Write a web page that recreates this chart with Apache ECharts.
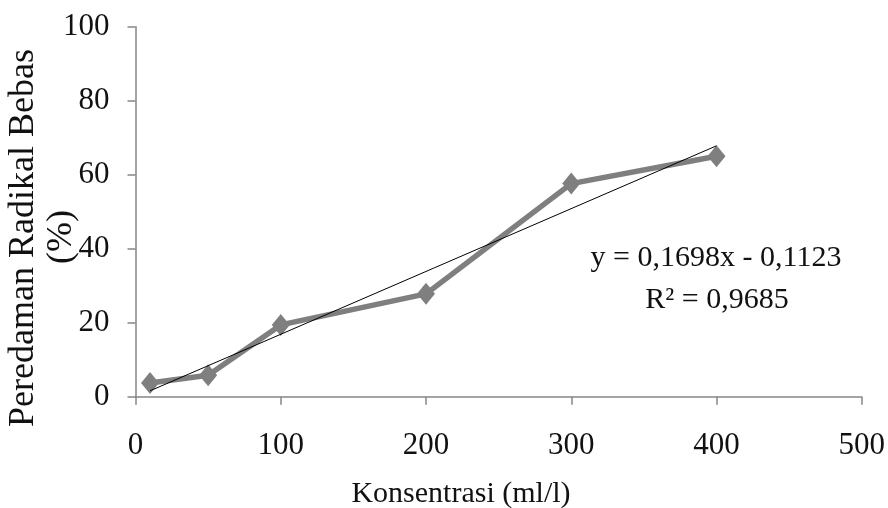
<!DOCTYPE html>
<html><head><meta charset="utf-8">
<script src="https://cdn.jsdelivr.net/npm/echarts@6/dist/echarts.min.js"></script>
<style>html,body{margin:0;padding:0;background:#fff}#c{width:888px;height:508px}</style>
</head><body><div id="c"></div>
<script>
const concentrations = [10, 50, 100, 200, 300, 400];
const inhibition = [3.7, 5.8, 19.4, 27.8, 57.6, 65.0];
const slope = 0.1698, intercept = -0.1123;
const trendX = [10, 400];
const xTicks = [0, 100, 200, 300, 400, 500];
const yTicks = [0, 20, 40, 60, 80, 100];
const eqLine1 = 'y = 0,1698x - 0,1123';
const eqLine2 = 'R² = 0,9685';
const xTitle = 'Konsentrasi (ml/l)';
const yTitle1 = 'Peredaman Radikal Bebas';
const yTitle2 = '(%)';

const font = '"Liberation Serif", "Times New Roman", serif';
const chart = echarts.init(document.getElementById('c'));
chart.setOption({
  animation: false,
  backgroundColor: '#fff',
  grid: { left: 135.5, right: 25, top: 26.7, bottom: 111.3 },
  xAxis: {
    type: 'value', min: 0, max: 500, interval: 100,
    axisLine: { show: true, lineStyle: { color: '#868686', width: 1.5 } },
    axisTick: { show: true, length: 8, lineStyle: { color: '#868686', width: 1.5 } },
    splitLine: { show: false },
    axisLabel: { fontFamily: font, fontSize: 31, color: '#111', margin: 34 }
  },
  yAxis: {
    type: 'value', min: 0, max: 100, interval: 20,
    axisLine: { show: true, lineStyle: { color: '#868686', width: 1.5 } },
    axisTick: { show: true, length: 8, lineStyle: { color: '#868686', width: 1.5 } },
    splitLine: { show: false },
    axisLabel: { fontFamily: font, fontSize: 31, color: '#111', margin: 26 }
  },
  series: [
    {
      type: 'line',
      data: concentrations.map((x, i) => [x, inhibition[i]]),
      symbol: 'diamond', symbolSize: [18, 22],
      lineStyle: { color: '#7f7f7f', width: 5.5 },
      itemStyle: { color: '#7f7f7f' },
      z: 2
    },
    {
      type: 'line',
      data: trendX.map(x => [x, slope * x + intercept]),
      symbol: 'none',
      lineStyle: { color: '#000', width: 1 },
      z: 3
    }
  ],
  graphic: [
    { type: 'text', x: 716, y: 258, style: { text: eqLine1, font: '30px ' + font, fill: '#111', textAlign: 'center', textVerticalAlign: 'middle' } },
    { type: 'text', x: 717, y: 300, style: { text: eqLine2, font: '30px ' + font, fill: '#111', textAlign: 'center', textVerticalAlign: 'middle' } },
    { type: 'text', x: 461, y: 494, style: { text: xTitle, font: '30px ' + font, fill: '#111', textAlign: 'center', textVerticalAlign: 'middle' } },
    { type: 'text', x: 24, y: 238, rotation: Math.PI / 2, style: { text: yTitle1, font: '36px ' + font, fill: '#111', textAlign: 'center', textVerticalAlign: 'middle' } },
    { type: 'text', x: 62, y: 237, rotation: Math.PI / 2, style: { text: yTitle2, font: '36px ' + font, fill: '#111', textAlign: 'center', textVerticalAlign: 'middle' } }
  ]
});
</script></body></html>
